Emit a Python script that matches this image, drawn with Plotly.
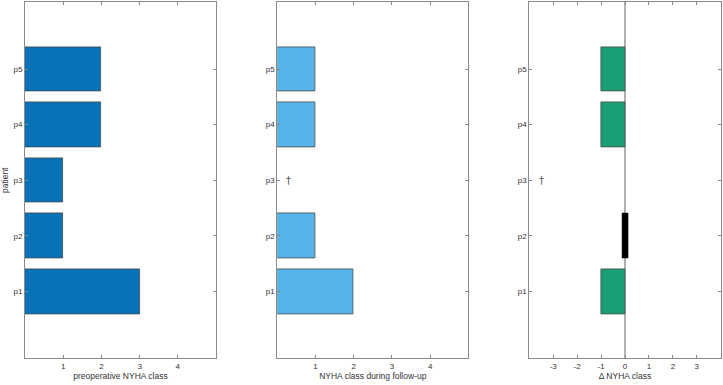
import plotly.graph_objects as go

patients = ["p1", "p2", "p3", "p4", "p5"]
preop = [3, 1, 1, 2, 2]
followup = [2, 1, None, 1, 1]
delta = [(f - p) if f is not None else None for p, f in zip(preop, followup)]
deceased = ["p3"]
x_ticks_abs = [1, 2, 3, 4]
x_ticks_delta = [-3, -2, -1, 0, 1, 2, 3]
x_ticktext_delta = ["-3", "-2", "-1", "0", "1", "2", "3"]

W, H = 723, 385
FONT = "Liberation Sans, Arial, Helvetica, sans-serif"
AX = "#8a8a8a"
EDGE = "#4a4a4a"
TXT = "#333333"

fig = go.Figure()

fig.add_trace(go.Bar(y=patients, x=preop, orientation="h", width=0.8,
                     marker=dict(color="#0672B7", line=dict(color=EDGE, width=0.8)),
                     xaxis="x", yaxis="y", showlegend=False))
fig.add_trace(go.Bar(y=patients, x=followup, orientation="h", width=0.8,
                     marker=dict(color="#56B4E9", line=dict(color=EDGE, width=0.8)),
                     xaxis="x2", yaxis="y2", showlegend=False))

nz_y = [p for p, d in zip(patients, delta) if d not in (None, 0)]
nz_x = [d for d in delta if d not in (None, 0)]
fig.add_trace(go.Bar(y=nz_y, x=nz_x, orientation="h", width=0.8,
                     marker=dict(color="#1A9E77", line=dict(color=EDGE, width=0.8)),
                     xaxis="x3", yaxis="y3", showlegend=False))
zero_half = 0.12
z_y = [p for p, d in zip(patients, delta) if d == 0]
fig.add_trace(go.Bar(y=z_y, x=[2 * zero_half] * len(z_y), base=[-zero_half] * len(z_y),
                     orientation="h", width=0.8,
                     marker=dict(color="black", line=dict(color="black", width=0.5)),
                     xaxis="x3", yaxis="y3", showlegend=False))

def px(a, b):
    return [a / W, b / W]

ydom = [(H - 358.3) / H, (H - 2.3) / H]
common_x = dict(showline=True, mirror="ticks", linecolor=AX, linewidth=1, automargin=False,
                ticks="inside", ticklen=3, tickcolor=AX, showgrid=False, zeroline=False,
                tickfont=dict(family=FONT, size=8, color=TXT),
                title_font=dict(family=FONT, size=8.5, color=TXT), title_standoff=3)
common_y = dict(showline=True, mirror="ticks", linecolor=AX, linewidth=1, automargin=False,
                ticks="inside", ticklen=3, tickcolor=AX, showgrid=False, zeroline=False,
                type="category", categoryorder="array", categoryarray=patients,
                range=[-1.2, 5.2], domain=ydom,
                tickfont=dict(family=FONT, size=8, color=TXT))

fig.update_layout(
    width=W, height=H, margin=dict(l=0, r=0, t=0, b=0, autoexpand=False),
    plot_bgcolor="white", paper_bgcolor="white", bargap=0,
    xaxis=dict(domain=px(25, 216), range=[0, 5], tickvals=x_ticks_abs,
               title_text="preoperative NYHA class", anchor="y", **common_x),
    yaxis=dict(anchor="x", title_text="patient",
               title_font=dict(family=FONT, size=8.5, color=TXT), title_standoff=4, **common_y),
    xaxis2=dict(domain=px(277.3, 468.3), range=[0, 5], tickvals=x_ticks_abs,
                title_text="NYHA class during follow-up", anchor="y2", **common_x),
    yaxis2=dict(anchor="x2", **common_y),
    xaxis3=dict(domain=px(529.3, 720.7), range=[-4, 4], tickvals=x_ticks_delta,
                ticktext=x_ticktext_delta,
                title_text="\u0394 NYHA class", anchor="y3", **common_x),
    yaxis3=dict(anchor="x3", **common_y),
)
fig.update_xaxes(selector=dict(anchor="y3"), zeroline=True, zerolinecolor="#b0b0b0", zerolinewidth=1.5)

for p in deceased:
    for xv, xr, yr in [(0.29, "x2", "y2"), (-3.47, "x3", "y3")]:
        fig.add_annotation(x=xv, y=p, xref=xr, yref=yr, text="\u2020", showarrow=False,
                           font=dict(family="DejaVu Sans, sans-serif", size=10, color="#555555"))

fig.write_html("out.html", config={"displayModeBar": False},
               post_script="document.body.style.margin='0';document.body.style.overflow='hidden';")
